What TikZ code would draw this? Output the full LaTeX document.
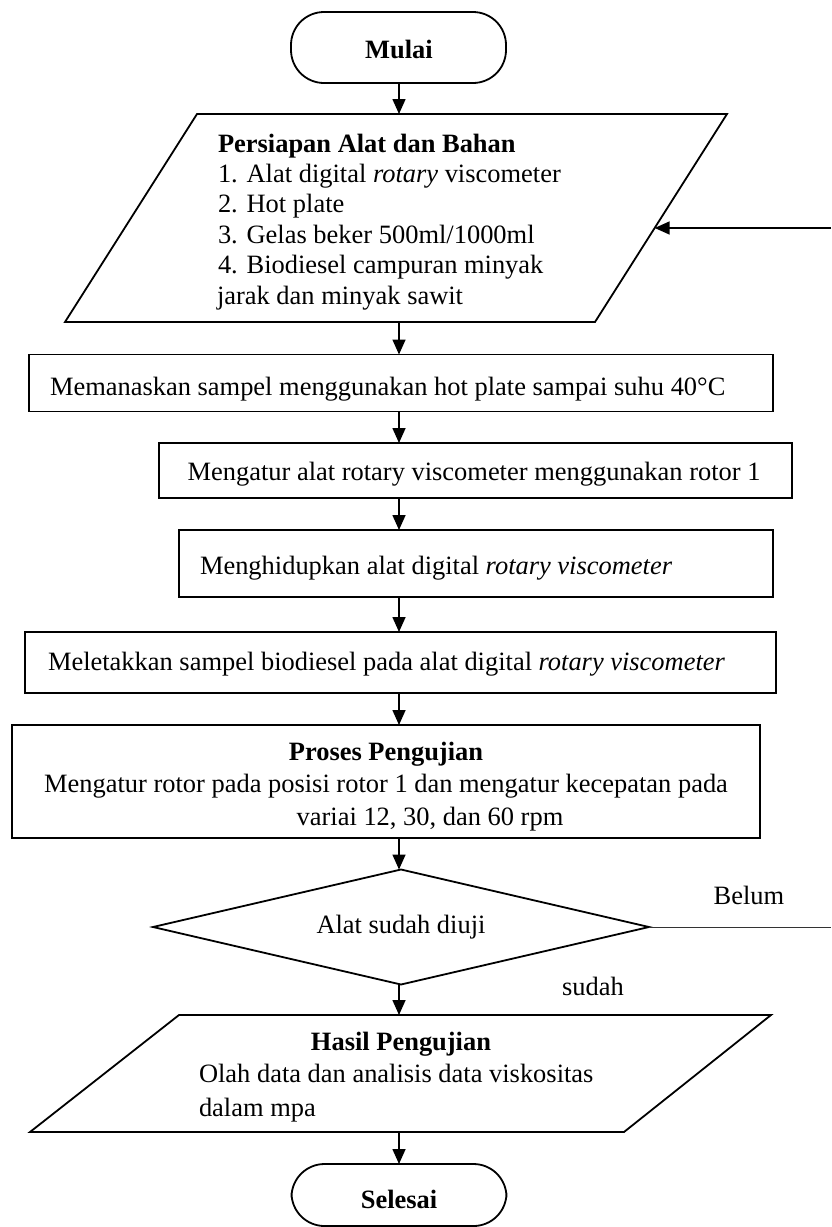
\documentclass[tikz,border=0pt]{standalone}
\usepackage{fontspec}
\setmainfont{Liberation Serif}
\usetikzlibrary{arrows.meta,shapes.geometric,calc}

\begin{document}
\begin{tikzpicture}[x=1pt,y=-1pt,
  font=\fontsize{26.45}{30.5}\selectfont,
  shapeline/.style={draw,line width=1.8pt,inner sep=0pt,outer sep=0pt},
  procbox/.style={shapeline,rectangle},
  term/.style={shapeline,rectangle,rounded corners=33pt,minimum width=215pt,minimum height=71pt},
  ioline/.style={line width=1.8pt,line join=miter},
  flow/.style={line width=1.6pt,-{Triangle[length=15pt,width=13pt]}},
  txt/.style={inner sep=0pt,outer sep=0pt},
]
\useasboundingbox (0,0) rectangle (831,1227);

% terminals, process boxes and decision
\node[term] (start) at (398.5,47.5) {};
\node[procbox,minimum width=744pt,minimum height=57pt] (b1) at (401,383) {};
\node[procbox,minimum width=633pt,minimum height=55pt] (b2) at (475.5,470.5) {};
\node[procbox,minimum width=594pt,minimum height=67pt] (b3) at (476,563.5) {};
\node[procbox,minimum width=751pt,minimum height=61pt] (b4) at (400.5,662.5) {};
\node[procbox,minimum width=748pt,minimum height=113pt] (b5) at (386,781.5) {};
\node[shapeline,diamond,minimum width=496pt,minimum height=115pt] (dec) at (401,927) {};
\node[term,minimum height=62pt] (stop) at (399,1195) {};

% input/output parallelograms
\coordinate (in1bl) at (65,322);
\coordinate (in1tl) at (197,114);
\coordinate (in1tr) at (727,114);
\coordinate (in1br) at (595,322);
\draw[ioline] (in1bl) -- (in1tl) -- (in1tr) -- (in1br) -- cycle;
\coordinate (out bl) at (30,1132);
\coordinate (out tl) at (179,1015);
\coordinate (out tr) at (771,1015);
\coordinate (out br) at (624,1132);
\draw[ioline] (out bl) -- (out tl) -- (out tr) -- (out br) -- cycle;

% texts
\node[txt,anchor=base] (tstart) at (399,58) {\bfseries Mulai};
\node[txt,anchor=base west] (tin0) at (218,152) {\bfseries Persiapan Alat dan Bahan};
\node[txt,anchor=base west] (tin1) at (218,182) {1. Alat digital \textit{rotary} viscometer};
\node[txt,anchor=base west] (tin2) at (218,212.5) {2. Hot plate};
\node[txt,anchor=base west] (tin3) at (218,243) {3. Gelas beker 500ml/1000ml};
\node[txt,anchor=base west] (tin4) at (218,273.5) {4. Biodiesel campuran minyak};
\node[txt,anchor=base west] (tin5) at (217,304.5) {jarak dan minyak sawit};
\node[txt,anchor=base west] (tb1) at (50,395) {Memanaskan sampel menggunakan hot plate sampai suhu 40°C};
\node[txt,anchor=base] (tb2) at (474,480) {Mengatur alat rotary viscometer menggunakan rotor 1};
\node[txt,anchor=base west] (tb3) at (200,574) {Menghidupkan alat digital \textit{rotary viscometer}};
\node[txt,anchor=base west] (tb4) at (48,670) {Meletakkan sampel biodiesel pada alat digital \textit{rotary viscometer}};
\node[txt,anchor=base] (tb5a) at (386,760) {\bfseries Proses Pengujian};
\node[txt,anchor=base] (tb5b) at (386,792) {Mengatur rotor pada posisi rotor 1 dan mengatur kecepatan pada};
\node[txt,anchor=base] (tb5c) at (430,825) {variai 12, 30, dan 60 rpm};
\node[txt,anchor=base] (tdec) at (401,933) {Alat sudah diuji};
\node[txt,anchor=base] (tno) at (749,904) {Belum};
\node[txt,anchor=base] (tyes) at (593,995) {sudah};
\node[txt,anchor=base] (tout0) at (401,1050) {\bfseries Hasil Pengujian};
\node[txt,anchor=base west] (tout1) at (199,1082) {Olah data dan analisis data viskositas};
\node[txt,anchor=base west] (tout2) at (199,1116) {dalam mpa};
\node[txt,anchor=base] (tstop) at (399,1208) {\bfseries Selesai};

% main flow
\coordinate (spine) at (399,0);
\draw[flow] (spine |- start.south) -- (spine |- in1tl);
\draw[flow] (spine |- in1bl) -- (spine |- b1.north);
\draw[flow] (spine |- b1.south) -- (spine |- b2.north);
\draw[flow] (spine |- b2.south) -- (spine |- b3.north);
\draw[flow] (spine |- b3.south) -- (spine |- b4.north);
\draw[flow] (spine |- b4.south) -- (spine |- b5.north);
\draw[flow] (spine |- b5.south) -- (spine |- dec.north);
\draw[flow] (spine |- dec.south) -- (spine |- out tl);
\draw[flow] (spine |- out bl) -- (spine |- stop.north);

% repeat loop running off the right edge
\coordinate (rim) at (831,0);
\coordinate (hit) at ($(in1tr)!0.548!(in1br)$);
\draw[line width=1pt,black!80] (dec.east) -- (dec.east -| rim);
\draw[flow] (hit -| rim) -- (hit);
\end{tikzpicture}
\end{document}
